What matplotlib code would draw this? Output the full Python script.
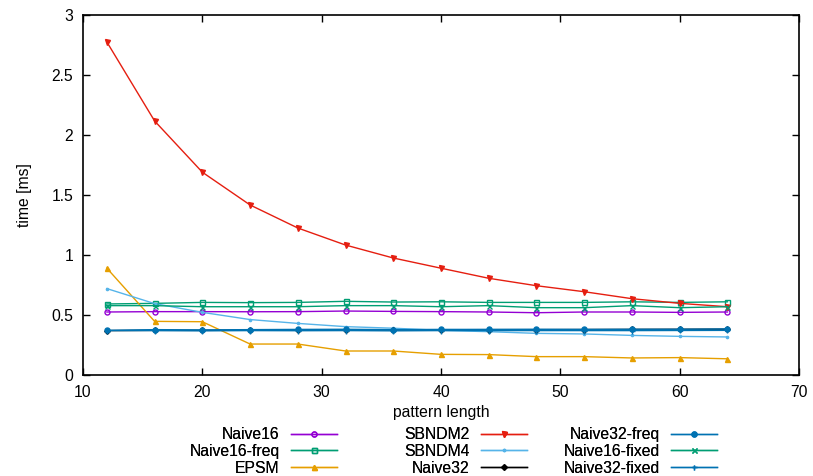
import matplotlib
matplotlib.use('Agg')
import matplotlib.pyplot as plt

plt.rcParams['font.family'] = ['Liberation Sans', 'DejaVu Sans']
plt.rcParams['font.size'] = 11.3

# data
pattern_len = [12, 16, 20, 24, 28, 32, 36, 40, 44, 48, 52, 56, 60, 64]

naive16 = [0.525, 0.528, 0.528, 0.527, 0.528, 0.533, 0.530, 0.528, 0.525, 0.519, 0.525, 0.525, 0.522, 0.525]
naive16_freq = [0.592, 0.597, 0.605, 0.603, 0.605, 0.614, 0.608, 0.610, 0.605, 0.605, 0.605, 0.610, 0.605, 0.610]
epsm = [0.89, 0.447, 0.444, 0.258, 0.258, 0.200, 0.200, 0.172, 0.170, 0.153, 0.153, 0.142, 0.145, 0.135]
sbndm2 = [2.775, 2.117, 1.69, 1.417, 1.225, 1.083, 0.975, 0.89, 0.806, 0.744, 0.694, 0.636, 0.597, 0.569]
sbndm4 = [0.72, 0.595, 0.522, 0.462, 0.43, 0.403, 0.39, 0.372, 0.361, 0.347, 0.342, 0.330, 0.322, 0.317]
naive32 = [0.370, 0.372, 0.372, 0.373, 0.374, 0.375, 0.376, 0.377, 0.378, 0.378, 0.379, 0.380, 0.381, 0.382]
naive32_freq = [0.372, 0.378, 0.376, 0.378, 0.380, 0.381, 0.378, 0.380, 0.380, 0.381, 0.380, 0.381, 0.381, 0.384]
naive16_fixed = [0.578, 0.578, 0.569, 0.569, 0.569, 0.578, 0.578, 0.569, 0.578, 0.561, 0.561, 0.578, 0.561, 0.569]
naive32_fixed = [0.370, 0.370, 0.368, 0.370, 0.369, 0.370, 0.368, 0.370, 0.370, 0.370, 0.370, 0.370, 0.371, 0.372]

series = [
    ('Naive16', naive16, '#9400d3', 'o', True),
    ('Naive16-freq', naive16_freq, '#009e73', 's', True),
    ('EPSM', epsm, '#e69f00', '^', False),
    ('SBNDM2', sbndm2, '#e51e10', 'v', False),
    ('SBNDM4', sbndm4, '#56b4e9', '.', False),
    ('Naive32', naive32, '#000000', 'D', False),
    ('Naive32-freq', naive32_freq, '#0072b2', 'o', False),
    ('Naive16-fixed', naive16_fixed, '#009e73', 'x', False),
    ('Naive32-fixed', naive32_fixed, '#0072b2', '+', False),
]

fig = plt.figure(figsize=(8.13, 4.76), dpi=100)
ax = fig.add_axes([83 / 813, 101 / 476, 716 / 813, 360 / 476])

lines = []
for name, vals, col, mk, hollow in series:
    ms = 3.6
    if mk == 'D':
        ms = 2.8
    if mk == '.':
        ms = 3.2
    ln, = ax.plot(pattern_len, vals, color=col, lw=1.0, marker=mk, markersize=ms,
                  markerfacecolor='none' if hollow else col, markeredgewidth=1.0,
                  label=name)
    lines.append(ln)

ax.set_xlim(10, 70)
ax.set_ylim(0, 3)
ax.set_xticks([10, 20, 30, 40, 50, 60, 70])
ax.set_yticks([0, 0.5, 1, 1.5, 2, 2.5, 3])
ax.set_yticklabels(['0', '0.5', '1', '1.5', '2', '2.5', '3'])
ax.tick_params(direction='in', top=True, right=True, length=5, width=1, pad=7)
for sp in ax.spines.values():
    sp.set_linewidth(1.2)

ax.set_xlabel('pattern length', labelpad=4)
ax.set_ylabel('time [ms]', labelpad=14)

# legend: three columns, text right-aligned, sample to its right
col_right = [337, 527, 717]
for c in range(3):
    leg = fig.legend(handles=lines[c * 3:c * 3 + 3], loc='upper right',
                     bbox_to_anchor=(col_right[c] / 813, 1 - 427 / 476),
                     markerfirst=False, frameon=False, handlelength=2.9,
                     handletextpad=0.75, labelspacing=0.12, borderpad=0,
                     borderaxespad=0)
    fig.add_artist(leg)

fig.savefig('out.png', dpi=100)
